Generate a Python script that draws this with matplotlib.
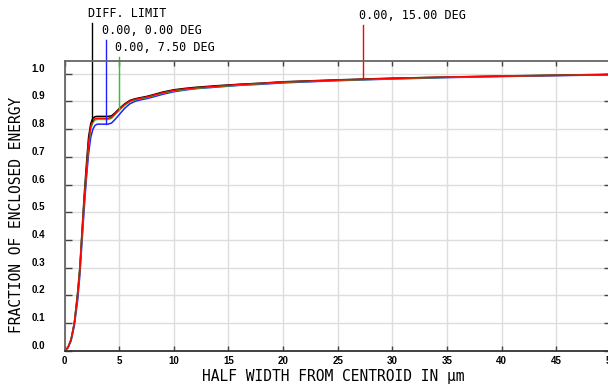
import numpy as np
import matplotlib
matplotlib.use("Agg")
import matplotlib.pyplot as plt
import matplotlib.transforms as mtransforms

# half width from centroid (micrometres)
x = [0, 0.3, 0.6, 0.9, 1.2, 1.4, 1.6, 1.8, 2.0, 2.2, 2.4, 2.6, 2.8, 3.0, 3.5,
     4.0, 4.3, 4.6, 5.0, 5.5, 6.0, 6.5, 7.0, 7.5, 8.0, 9.0, 10, 11, 12, 14,
     16, 18, 20, 25, 30, 35, 40, 45, 50]

diff_limit = [0, 0.01, 0.04, 0.10, 0.21, 0.30, 0.43, 0.56, 0.67, 0.77, 0.82, 0.840, 0.845, 0.846, 0.846,
              0.846, 0.848, 0.858, 0.874, 0.891, 0.904, 0.910, 0.914, 0.918, 0.923, 0.934, 0.942, 0.947, 0.951, 0.957,
              0.962, 0.966, 0.971, 0.978, 0.984, 0.988, 0.992, 0.995, 0.998]
deg_0 = [0, 0.01, 0.035, 0.09, 0.18, 0.27, 0.39, 0.51, 0.62, 0.71, 0.77, 0.80, 0.814, 0.818, 0.818,
         0.818, 0.822, 0.834, 0.852, 0.875, 0.892, 0.901, 0.906, 0.910, 0.915, 0.926, 0.935, 0.941, 0.946, 0.952,
         0.958, 0.962, 0.967, 0.975, 0.981, 0.986, 0.990, 0.993, 0.996]
deg_7_5 = [0, 0.01, 0.04, 0.10, 0.20, 0.29, 0.41, 0.54, 0.64, 0.74, 0.80, 0.824, 0.833, 0.835, 0.835,
           0.835, 0.839, 0.851, 0.868, 0.886, 0.899, 0.906, 0.910, 0.914, 0.919, 0.930, 0.938, 0.943, 0.947, 0.954,
           0.959, 0.964, 0.969, 0.976, 0.982, 0.987, 0.991, 0.994, 0.997]
deg_15 = [0, 0.01, 0.04, 0.10, 0.20, 0.29, 0.42, 0.54, 0.64, 0.75, 0.81, 0.830, 0.838, 0.839, 0.839,
          0.839, 0.843, 0.855, 0.871, 0.889, 0.902, 0.908, 0.912, 0.916, 0.921, 0.932, 0.940, 0.945, 0.949, 0.955,
          0.961, 0.965, 0.970, 0.977, 0.983, 0.988, 0.991, 0.994, 0.997]

series = [diff_limit, deg_0, deg_7_5, deg_15]
colors = ['black', '#2020ff', '#20d020', '#ff0000']
labels = ['DIFF. LIMIT', '0.00, 0.00 DEG', '0.00, 7.50 DEG', '0.00, 15.00 DEG']
label_x = [2.5, 3.8, 5.0, 27.3]
label_top = [1.183, 1.122, 1.060, 1.176]

fig = plt.figure(figsize=(6.08, 3.84), dpi=100)
ax = fig.add_axes([64.5/608, 33.3/384, (611-64.5)/608, (350.7-61)/384])

for y, c in zip(series, colors):
    ax.plot(x, y, color=c, lw=1.1)

for y, c, lab, lx, lt in zip(series, colors, labels, label_x, label_top):
    yc = np.interp(lx, x, y)
    ax.plot([lx, lx], [yc, lt], color=c, lw=1, clip_on=False)
    ax.text(lx - 0.35, lt + 0.012, lab, family='DejaVu Sans Mono', fontsize=8.5,
            ha='left', va='bottom', clip_on=False)

ax.set_xlim(0, 50)
ax.set_ylim(0, 1.046)
ax.set_xticks(np.arange(0, 51, 5))
ax.set_yticks(np.arange(0, 1.01, 0.1))
ax.set_yticklabels(['%.1f' % v for v in np.arange(0, 1.01, 0.1)])
ax.grid(True, color='#dddddd', lw=1)
ax.set_axisbelow(True)

ax.tick_params(axis='both', direction='in', top=True, right=True, length=3.3, width=1,
               colors='#444444', labelcolor='black')
ax.tick_params(axis='y', length=5, pad=14)
ax.tick_params(axis='x', pad=3.5)
for lab in ax.get_xticklabels() + ax.get_yticklabels():
    lab.set_fontfamily('Liberation Sans')
    lab.set_fontweight('bold')
    lab.set_fontsize(7)
shift = mtransforms.ScaledTranslation(0, 6/100, fig.dpi_scale_trans)
for lab in ax.get_yticklabels():
    lab.set_transform(lab.get_transform() + shift)
    lab.set_horizontalalignment('right')

for s in ['left', 'top', 'right']:
    ax.spines[s].set_color('#666666')
    ax.spines[s].set_linewidth(1.3)
ax.spines['bottom'].set_color('#333333')
ax.spines['bottom'].set_linewidth(1.3)

fig.text(333/608, 1 - 376/384, 'HALF WIDTH FROM CENTROID IN μm', family='DejaVu Sans Mono',
         fontsize=10.5, ha='center', va='center')
fig.text(17/608, 1 - 215/384, 'FRACTION OF ENCLOSED ENERGY', family='DejaVu Sans Mono',
         fontsize=10.5, ha='center', va='center', rotation=90)

fig.savefig('out.png', dpi=100)
